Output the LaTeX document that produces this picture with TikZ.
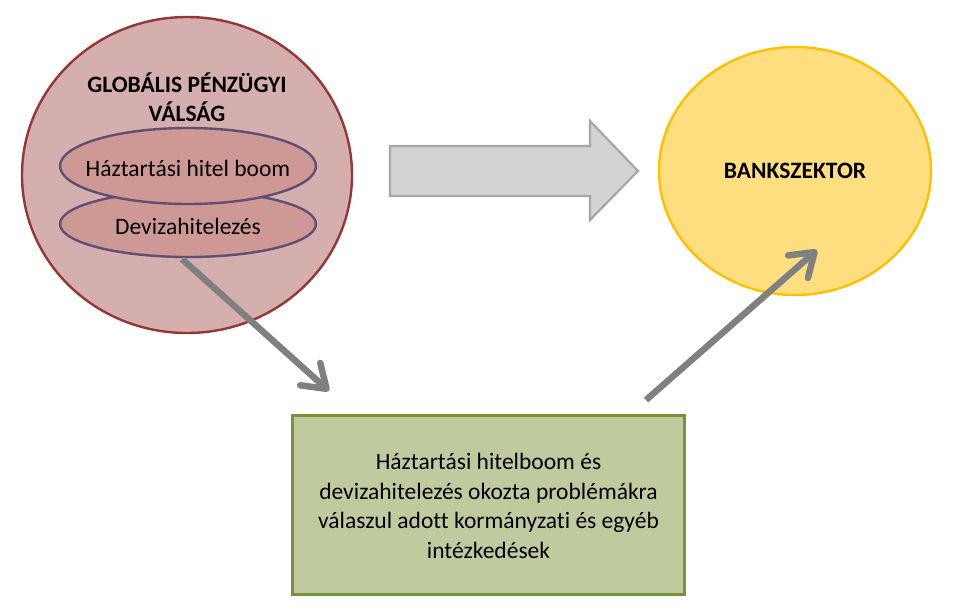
\documentclass[tikz,border=0pt]{standalone}
\usepackage{fontspec}
\setmainfont{Carlito}[Ligatures=NoCommon]
\usetikzlibrary{arrows.meta,shapes.geometric}
\definecolor{bigfill}{HTML}{D5AFAE}
\definecolor{bigdraw}{HTML}{953735}
\definecolor{elfill}{HTML}{CE9894}
\definecolor{eldraw}{HTML}{5E5074}
\definecolor{blockfill}{HTML}{D3D3D3}
\definecolor{blockdraw}{HTML}{A6A6A6}
\definecolor{yfill}{HTML}{FFDE80}
\definecolor{ydraw}{HTML}{FFC000}
\definecolor{gfill}{HTML}{BFCB9E}
\definecolor{gdraw}{HTML}{77933C}
\definecolor{arrgray}{HTML}{808080}
\tikzset{
  txt/.style={font=\fontsize{23.5}{29.5}\selectfont, align=center, inner sep=0pt},
  btxt/.style={txt, font=\fontsize{23.5}{29.5}\selectfont\bfseries},
  elli/.style={ellipse, fill=elfill, draw=eldraw, line width=2.4pt, inner sep=0pt, minimum width=256pt, minimum height=#1},
  fatarrow/.style={draw=arrgray, line width=6.5pt, -{Straight Barb[length=22pt,width=30pt,round]}}
}
\begin{document}
\begin{tikzpicture}[x=1pt,y=-1pt]
\useasboundingbox (0,0) rectangle (958,611);
% big circle
\node[ellipse, fill=bigfill, draw=bigdraw, line width=2.4pt, minimum width=330pt, minimum height=316pt, inner sep=0pt] (crisis) at (187,175) {};
\node[btxt] (crisistxt) at (187,97) {GLOBÁLIS PÉNZÜGYI\\VÁLSÁG};
% inner ellipses
\node[elli=66pt] (deviza) at (188,224) {};
\node[elli=76pt] (hazt) at (188,166) {};
\node[txt] (hazttxt) at (188,168) {Háztartási hitel boom};
\node[txt] (devizatxt) at (188,226) {Devizahitelezés};
% block arrow
\draw[fill=blockfill, draw=blockdraw, line width=2.2pt, line join=miter]
  (390,146) -- (590,146) -- (590,121) -- (638,171) -- (590,220) -- (590,196) -- (390,196) -- cycle;
% bank sector
\node[ellipse, fill=yfill, draw=ydraw, line width=2.4pt, minimum width=272pt, minimum height=248pt, inner sep=0pt] (bank) at (795,171) {};
\node[btxt] (banktxt) at (795,171) {BANKSZEKTOR};
% green box
\node[rectangle, fill=gfill, draw=gdraw, line width=3pt, minimum width=392pt, minimum height=179pt, inner sep=0pt] (measures) at (488.5,505) {};
\node[txt] (measurestxt) at (488.5,506) {Háztartási hitelboom és\\devizahitelezés okozta problémákra\\válaszul adott kormányzati és egyéb\\intézkedések};
% connectors
\coordinate (a1s) at (182,259);
\coordinate (a1e) at (329,391);
\coordinate (a2s) at (646,400);
\coordinate (a2e) at (817,250);
\draw[fatarrow] (a1s) -- (a1e);
\draw[fatarrow] (a2s) -- (a2e);
\end{tikzpicture}
\end{document}
